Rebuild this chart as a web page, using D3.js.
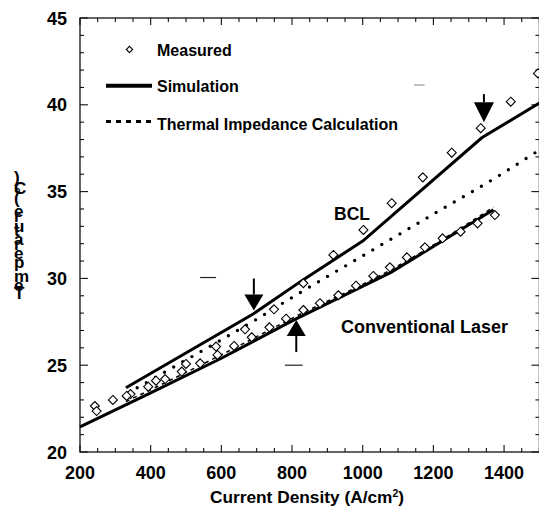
<!DOCTYPE html>
<html>
<head>
<meta charset="utf-8">
<script src="https://cdn.jsdelivr.net/npm/d3@7/dist/d3.min.js"></script>
<style>
  html, body { margin: 0; padding: 0; background: #fff; }
  svg { display: block; font-family: "Liberation Sans", Arial, Helvetica, sans-serif; font-weight: bold; }
</style>
</head>
<body>
<svg id="chart" width="539" height="510"></svg>
<script>
// Axis ticks
const xTickLabels = [200, 400, 600, 800, 1000, 1200, 1400];
const yTickLabels = [20, 25, 30, 35, 40, 45];

// Simulated temperature (solid lines)
const bclSimJ = [330, 690, 830, 1000, 1337, 1500];
const bclSimT = [23.7, 27.95, 29.9, 32.15, 38.1, 40.1];
const convSimJ = [200, 400, 600, 800, 1080, 1370];
const convSimT = [21.45, 23.4, 25.4, 27.55, 30.35, 33.95];

// Thermal impedance calculation
const bclCalcJ = [336, 500, 700, 800, 1000, 1200, 1400, 1500];
const bclCalcT = [23.4, 25.3, 27.65, 28.9, 31.3, 33.7, 36.1, 37.4];
const convCalcJ = [330, 600, 800, 1080, 1370];
const convCalcT = [22.9, 25.6, 27.7, 30.5, 34.1];

// Measured temperature
const bclMeasJ = [242, 343, 415, 500, 585, 667, 749, 832, 917, 1002, 1082, 1170, 1252, 1334, 1419, 1496];
const bclMeasT = [22.65, 23.34, 24.11, 25.07, 26.07, 27.07, 28.22, 29.72, 31.35, 32.79, 34.33, 35.82, 37.24, 38.65, 40.18, 41.81];
const convMeasJ = [247, 293, 332, 393, 441, 488, 540, 589, 636, 686, 736, 783, 832, 879, 931, 981, 1030, 1077, 1125, 1176, 1226, 1277, 1325, 1374];
const convMeasT = [22.36, 23.0, 23.23, 23.76, 24.2, 24.63, 25.11, 25.59, 26.11, 26.61, 27.18, 27.68, 28.18, 28.57, 29.03, 29.58, 30.14, 30.64, 31.21, 31.79, 32.31, 32.69, 33.17, 33.65];

// Kink markers (current density, temperature at the tip, direction)
const arrowJ = [692, 812, 1343];
const arrowT = [28.15, 27.6, 39.0];
const arrowDir = ["down", "up", "down"];

// Short stray strokes on the plot (J start, J end, T)
const strayJ0 = [540, 780, 1145];
const strayJ1 = [585, 830, 1175];
const strayT = [30.05, 25.0, 41.14];

const svg = d3.select("#chart");
const x = d3.scaleLinear().domain([200, 1500]).range([80, 539.4]);
const y = d3.scaleLinear().domain([20, 45]).range([452, 18]);

const zip = (a, b) => a.map((v, i) => [v, b[i]]);
const line = d3.line().x(d => x(d[0])).y(d => y(d[1]));

// Frame
const frame = svg.append("g").attr("stroke", "#111").attr("stroke-width", 1.3).attr("fill", "none");
frame.append("rect").attr("x", x(200)).attr("y", y(45)).attr("width", x(1500) - x(200)).attr("height", y(20) - y(45));

// Ticks on all four sides, pointing inward
const ticks = svg.append("g").attr("stroke", "#111").attr("stroke-width", 1.1);
d3.range(200, 1501, 50).forEach(v => {
  const len = v % 200 === 0 ? 7 : 4;
  ticks.append("line").attr("x1", x(v)).attr("x2", x(v)).attr("y1", y(20)).attr("y2", y(20) - len);
  ticks.append("line").attr("x1", x(v)).attr("x2", x(v)).attr("y1", y(45)).attr("y2", y(45) + len);
});
d3.range(20, 46, 1).forEach(v => {
  const len = v % 5 === 0 ? 8 : 4;
  ticks.append("line").attr("x1", x(200)).attr("x2", x(200) + len).attr("y1", y(v)).attr("y2", y(v));
  ticks.append("line").attr("x1", x(1500)).attr("x2", x(1500) - len).attr("y1", y(v)).attr("y2", y(v));
});

// Tick labels
svg.append("g").selectAll("text").data(xTickLabels).join("text")
  .attr("x", d => x(d)).attr("y", 479).attr("text-anchor", "middle")
  .attr("font-size", 18).text(d => d);
svg.append("g").selectAll("text").data(yTickLabels).join("text")
  .attr("x", 67).attr("y", d => y(d) + 6.5).attr("text-anchor", "end")
  .attr("font-size", 18).text(d => d);

// Axis titles
const xt = svg.append("text").attr("x", 307).attr("y", 503).attr("text-anchor", "middle").attr("font-size", 17.3);
xt.append("tspan").text("Current Density (A/cm");
xt.append("tspan").attr("font-size", 10.5).attr("dy", -6.5).text("2");
xt.append("tspan").attr("dy", 6.5).text(")");

// Y title: upright glyphs stacked upward
svg.append("text")
  .attr("transform", "translate(14,299) rotate(-90)")
  .attr("rotate", "90")
  .attr("font-size", 17)
  .attr("letter-spacing", -1)
  .text("Temperature (°C)");

// Lines
svg.append("path").datum(zip(convCalcJ, convCalcT)).attr("d", line.curve(d3.curveMonotoneX))
  .attr("fill", "none").attr("stroke", "#000").attr("stroke-width", 1.5).attr("stroke-dasharray", "4,4");
svg.append("path").datum(zip(bclCalcJ, bclCalcT)).attr("d", line.curve(d3.curveMonotoneX))
  .attr("fill", "none").attr("stroke", "#000").attr("stroke-width", 3.4)
  .attr("stroke-linecap", "round").attr("stroke-dasharray", "0,10.5");
svg.append("path").datum(zip(convSimJ, convSimT)).attr("d", line.curve(d3.curveLinear))
  .attr("fill", "none").attr("stroke", "#000").attr("stroke-width", 3);
svg.append("path").datum(zip(bclSimJ, bclSimT)).attr("d", line.curve(d3.curveLinear))
  .attr("fill", "none").attr("stroke", "#000").attr("stroke-width", 3);

// Measured points
const diamond = r => `M0,${-r}L${r},0L0,${r}L${-r},0Z`;
svg.append("g").selectAll("path").data(zip(bclMeasJ, bclMeasT).concat(zip(convMeasJ, convMeasT))).join("path")
  .attr("transform", d => `translate(${x(d[0])},${y(d[1])})`)
  .attr("d", diamond(4.5)).attr("fill", "#fff").attr("stroke", "#000").attr("stroke-width", 1.1);

// Arrows
arrowJ.forEach((j, i) => {
  const ax = x(j), tip = y(arrowT[i]);
  const s = arrowDir[i] === "down" ? -1 : 1;
  const headH = i === 2 ? 20 : 16, halfW = i === 2 ? 10 : 9.5, shaft = i === 2 ? 8 : 16;
  const base = tip + s * headH;
  svg.append("line").attr("x1", ax).attr("x2", ax).attr("y1", base).attr("y2", base + s * shaft)
    .attr("stroke", "#000").attr("stroke-width", 2);
  svg.append("path").attr("d", `M${ax},${tip}L${ax - halfW},${base}L${ax + halfW},${base}Z`).attr("fill", "#000");
});

// Stray strokes
strayJ0.forEach((j, i) => {
  svg.append("line").attr("x1", x(j)).attr("x2", x(strayJ1[i])).attr("y1", y(strayT[i])).attr("y2", y(strayT[i]))
    .attr("stroke", i === 2 ? "#999" : "#222").attr("stroke-width", 1.2);
});

// Series labels
svg.append("text").attr("x", 334).attr("y", 220).attr("font-size", 17.5).text("BCL");
svg.append("text").attr("x", 341).attr("y", 333).attr("font-size", 18).text("Conventional Laser");

// Legend
const lg = svg.append("g");
lg.append("path").attr("transform", "translate(129.5,49.5)").attr("d", diamond(3.2))
  .attr("fill", "#fff").attr("stroke", "#000").attr("stroke-width", 1.1);
lg.append("text").attr("x", 157).attr("y", 55.5).attr("font-size", 16).text("Measured");
lg.append("line").attr("x1", 106).attr("x2", 152).attr("y1", 85.7).attr("y2", 85.7).attr("stroke", "#000").attr("stroke-width", 4);
lg.append("text").attr("x", 157).attr("y", 92).attr("font-size", 16).text("Simulation");
lg.append("line").attr("x1", 106).attr("x2", 152).attr("y1", 121.5).attr("y2", 121.5).attr("stroke", "#000")
  .attr("stroke-width", 3).attr("stroke-dasharray", "5,5");
lg.append("text").attr("x", 157).attr("y", 129.5).attr("font-size", 16).text("Thermal Impedance Calculation");
</script>
</body>
</html>
